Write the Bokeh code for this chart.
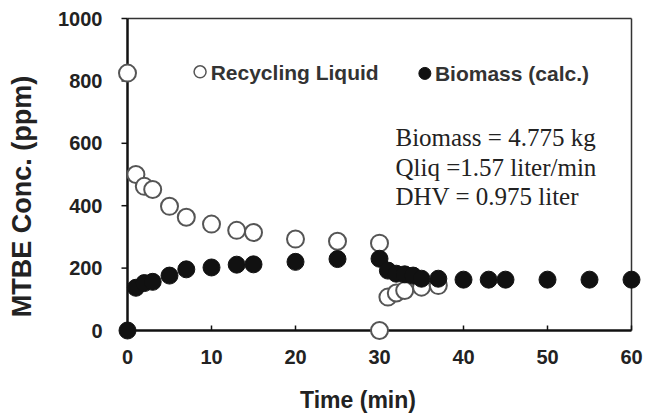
from bokeh.plotting import figure
from bokeh.models import Range1d, FixedTicker, Label, ColumnDataSource
from bokeh.core.properties import value
from bokeh.embed import file_html
from bokeh.resources import INLINE
import math

# ---- data ----
time_liquid = [0, 1, 2, 3, 5, 7, 10, 13, 15, 20, 25, 30, 30, 31, 32, 33, 35, 37]
liquid_conc = [825, 500, 462, 452, 398, 363, 341, 321, 314, 293, 286, 280, 0, 107, 120, 128, 139, 144]

time_biomass = [0, 1, 2, 3, 5, 7, 10, 13, 15, 20, 25, 30, 31, 32, 33, 34, 35, 37, 40, 43, 45, 50, 55, 60]
biomass_conc = [0, 137, 152, 156, 176, 196, 202, 211, 212, 220, 229, 230, 192, 182, 180, 176, 166, 166,
                163, 163, 163, 163, 163, 163]

x_ticks = [0, 10, 20, 30, 40, 50, 60]
y_ticks = [0, 200, 400, 600, 800, 1000]

series_names = ["Recycling Liquid", "Biomass (calc.)"]
note_lines = ["Biomass = 4.775 kg", "Qliq =1.57 liter/min", "DHV = 0.975 liter"]
x_title = "Time (min)"
y_title = "MTBE Conc. (ppm)"

XMIN, XMAX = 0, 60
YMIN, YMAX = 0, 1000

# ---- figure ----
p = figure(width=667, height=413, output_backend="svg", toolbar_location=None,
           x_range=Range1d(XMIN, XMAX), y_range=Range1d(YMIN, YMAX),
           min_border_left=127, min_border_right=36, min_border_top=18, min_border_bottom=83)
p.grid.visible = False
p.background_fill_color = "white"
p.border_fill_color = "white"
p.outline_line_color = None

AX_FONT = "Liberation Sans"
for ax in (p.xaxis[0], p.yaxis[0]):
    ax.axis_line_color = None
    ax.major_tick_line_color = None
    ax.minor_tick_line_color = None
    ax.major_label_text_font = AX_FONT
    ax.major_label_text_font_style = "bold"
    ax.major_label_text_font_size = "20px"
    ax.major_label_text_color = "#222222"

p.xaxis.ticker = FixedTicker(ticks=x_ticks)
p.yaxis.ticker = FixedTicker(ticks=y_ticks)
p.xaxis.major_tick_in = 0
p.xaxis.major_tick_out = 0
p.yaxis.major_tick_in = 0
p.yaxis.major_tick_out = 0
p.xaxis.major_label_standoff = 19
p.yaxis.major_label_standoff = 25

# pixel-per-unit helpers for layout offsets
PX_X = (631 - 127) / (XMAX - XMIN)
PX_Y = (330 - 18) / (YMAX - YMIN)

# ---- frame box and axis lines (drawn as glyphs, unclipped) ----
box = p.segment(x0=[XMIN, XMAX], y0=[YMAX, YMIN], x1=[XMAX, XMAX], y1=[YMAX, YMAX],
                line_color="#333333", line_width=1.5)
axes = p.segment(x0=[XMIN, XMIN], y0=[YMIN, YMIN], x1=[XMAX, XMIN], y1=[YMIN, YMAX],
                 line_color="#111111", line_width=2.5)
xt = p.segment(x0=x_ticks, y0=[YMIN] * len(x_ticks), x1=x_ticks,
               y1=[YMIN + 5 / PX_Y] * len(x_ticks), line_color="#111111", line_width=1.5)
yt = p.segment(x0=[XMIN - 6 / PX_X] * len(y_ticks), y0=y_ticks, x1=[XMIN] * len(y_ticks),
               y1=y_ticks, line_color="#111111", line_width=1.5)
for r in (box, axes, xt, yt):
    r.level = "annotation"

src_l = ColumnDataSource(dict(x=time_liquid, y=liquid_conc))
src_b = ColumnDataSource(dict(x=time_biomass, y=biomass_conc))

r1 = p.scatter("x", "y", source=src_l, size=17, marker="circle",
               fill_color="white", line_color="#555555", line_width=2)
r2 = p.scatter("x", "y", source=src_b, size=17, marker="circle",
               fill_color="#111111", line_color="#111111", line_width=1)
r1.level = "annotation"
r2.level = "annotation"

# ---- axis titles (text glyphs, unclipped) ----
tx = p.text(x=[XMIN + (357.5 - 127) / PX_X], y=[YMIN - (399 - 330) / PX_Y], text=[x_title],
            text_font=value(AX_FONT), text_font_style="bold", text_font_size="23px",
            text_color="#222222", text_align="center", text_baseline="middle")
ty = p.text(x=[XMIN - (127 - 21.5) / PX_X], y=[YMIN + (330 - 196) / PX_Y], text=[y_title],
            angle=math.pi / 2, text_font=value(AX_FONT), text_font_style="bold",
            text_font_size="27px", text_color="#222222", text_align="center",
            text_baseline="middle")
tx.level = "annotation"
ty.level = "annotation"

# ---- legend (manual, no frame) ----
LEG_FONT_SIZE = "21px"
m1 = p.scatter(x=[8.64], y=[829], size=12, marker="circle", fill_color="white",
               line_color="#555555", line_width=1.5)
m2 = p.scatter(x=[35.4], y=[824], size=12, marker="circle", fill_color="#111111",
               line_color="#111111")
p.add_layout(Label(x=9.9, y=828, text=series_names[0], text_font=AX_FONT,
                   text_font_style="bold", text_font_size=LEG_FONT_SIZE, text_color="#333333",
                   text_baseline="middle"))
p.add_layout(Label(x=36.6, y=824, text=series_names[1], text_font=AX_FONT,
                   text_font_style="bold", text_font_size=LEG_FONT_SIZE, text_color="#333333",
                   text_baseline="middle"))

# ---- annotation ----
for line, yy in zip(note_lines, [620, 524, 428]):
    p.add_layout(Label(x=31.9, y=yy, text=line, text_font="Liberation Serif",
                       text_font_size="25px", text_color="#222222", text_baseline="middle"))

open("out.html", "w").write(file_html(p, INLINE))
